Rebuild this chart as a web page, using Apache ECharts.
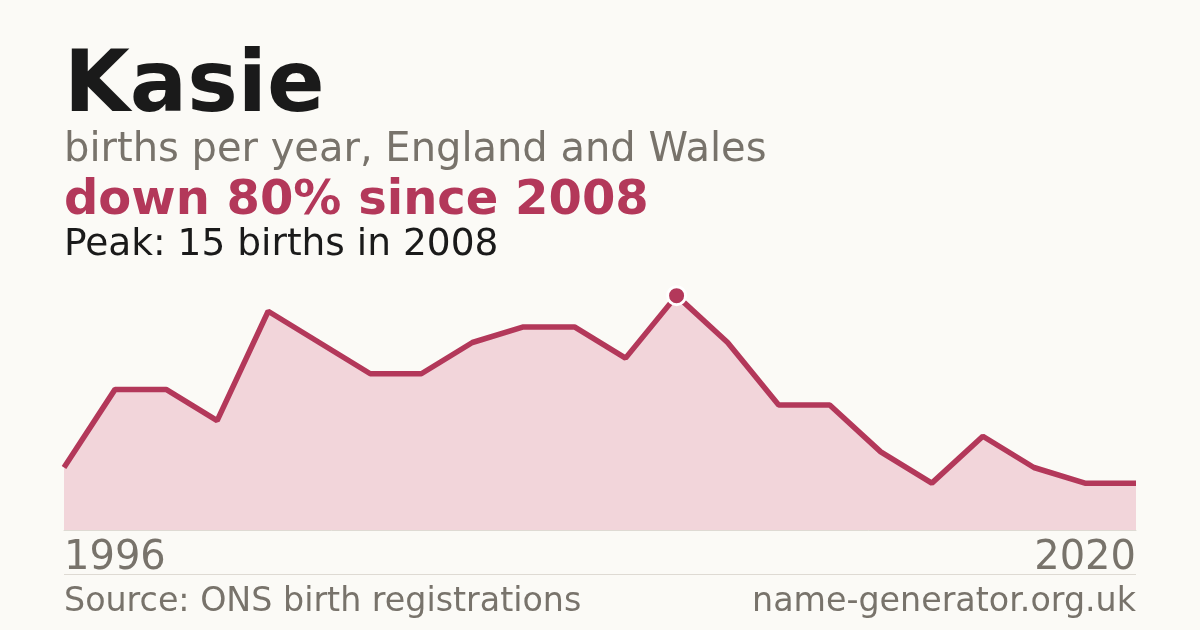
<!DOCTYPE html>
<html>
<head>
<meta charset="utf-8">
<script src="https://cdn.jsdelivr.net/npm/echarts@6/dist/echarts.min.js"></script>
<style>
  html, body { margin: 0; padding: 0; background: #fbfaf6; }
  #chart { width: 1200px; height: 630px; }
</style>
</head>
<body>
<div id="chart"></div>
<script>
// years with registered births (some years missing from the source)
var years = ['1996', '1997', '1998', '1999', '2000', '2001', '2002', '2003', '2004',
  '2005', '2006', '2007', '2008', '2009', '2010', '2011', '2012',
  '2013', '2014', '2016', '2018', '2020'];
var births = [4, 9, 9, 7, 14, 12, 10, 10, 12, 13, 13, 11, 15, 12, 8, 8, 5, 3, 6, 4, 3, 3];
var peakYear = '2008';

var red = '#b3385a';
var grey = '#78736b';
var font = '"DejaVu Sans", sans-serif';

var seriesData = births.map(function (v, i) {
  if (years[i] === peakYear) {
    return {
      value: v,
      symbol: 'circle',
      symbolSize: 18,
      itemStyle: { color: red, borderColor: '#ffffff', borderWidth: 3 }
    };
  }
  return v;
});

function txt(x, y, text, size, color, weight, align) {
  return {
    type: 'text',
    x: x,
    y: y,
    style: {
      text: text,
      font: (weight || 'normal') + ' ' + size + 'px ' + font,
      fill: color,
      align: align || 'left',
      verticalAlign: 'middle'
    }
  };
}

var option = {
  backgroundColor: '#fbfaf6',
  animation: false,
  grid: { left: 64, right: 64, top: 280, bottom: 100 },
  xAxis: {
    type: 'category',
    data: years,
    boundaryGap: false,
    axisLine: { lineStyle: { color: '#dedad3', width: 1 } },
    axisTick: { show: false },
    axisLabel: {
      interval: function (i) { return i === 0 || i === years.length - 1; },
      alignMinLabel: 'left',
      alignMaxLabel: 'right',
      margin: 9,
      fontSize: 40,
      fontFamily: font,
      color: grey
    }
  },
  yAxis: {
    type: 'value',
    min: 0,
    max: 16,
    show: false,
    splitLine: { show: false }
  },
  series: [{
    type: 'line',
    data: seriesData,
    showSymbol: true,
    symbol: 'none',
    lineStyle: { color: red, width: 5.5 },
    itemStyle: { color: red },
    areaStyle: { color: '#f2d5da', opacity: 1 },
    z: 3
  }],
  graphic: [
    txt(64, 89, 'Kasie', 85, '#1a1a1a', 'bold'),
    txt(64, 151, 'births per year, England and Wales', 40, grey),
    txt(64, 202, 'down 80% since 2008', 48, red, 'bold'),
    txt(64, 245, 'Peak: 15 births in 2008', 37.5, '#1a1a1a'),
    {
      type: 'line',
      shape: { x1: 64, y1: 574.5, x2: 1136, y2: 574.5 },
      style: { stroke: '#dedad3', lineWidth: 1 }
    },
    txt(64, 602, 'Source: ONS birth registrations', 33.3, grey),
    txt(1136, 602, 'name-generator.org.uk', 33.3, grey, 'normal', 'right')
  ]
};

var chart = echarts.init(document.getElementById('chart'));
chart.setOption(option);
</script>
</body>
</html>
